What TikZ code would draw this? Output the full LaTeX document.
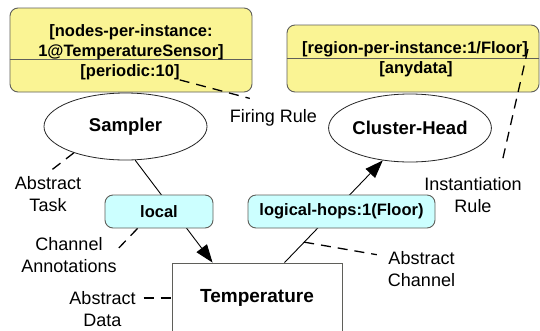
\documentclass[tikz,border=0pt]{standalone}
\usepackage{fontspec}
\setmainfont{Liberation Sans}
\usetikzlibrary{arrows.meta,shapes.geometric}
\definecolor{boxyellow}{RGB}{250,244,148}
\definecolor{boxcyan}{RGB}{204,255,255}
\definecolor{edgegray}{RGB}{95,95,90}
\begin{document}
\begin{tikzpicture}[x=1pt,y=-1pt,
  yellowbox/.style={draw=edgegray, fill=boxyellow, rounded corners=8pt, line width=0.9pt, inner sep=0pt},
  cyanbox/.style={draw=edgegray, fill=boxcyan, rounded corners=8pt, line width=0.9pt, inner sep=0pt, minimum height=33pt, font=\fontsize{16.5}{19}\selectfont\bfseries},
  boxtext/.style={inner sep=0pt, font=\fontsize{16.5}{20}\selectfont\bfseries, align=center},
  tasknode/.style={ellipse, draw=black!85, fill=white, line width=0.8pt, inner sep=0pt, font=\fontsize{18.5}{22}\selectfont\bfseries},
  note/.style={inner sep=0pt, font=\fontsize{18}{22}\selectfont, align=center},
  noteline/.style={dash pattern=on 10pt off 7pt, line width=1.3pt},
  flow/.style={line width=0.9pt, -{Triangle[length=18pt,width=13pt]}},
]
\clip (0,0) rectangle (540,330);
\fill[white] (0,0) rectangle (540,330);

% annotation boxes
\node[yellowbox, minimum width=242pt, minimum height=84pt] (frbox) at (131,50) {};
\draw[edgegray, line width=0.9pt] (frbox.west |- 0,59) -- (frbox.east |- 0,59);
\node[boxtext] (nodesper) at (131,42) {[nodes-per-instance:\\1@TemperatureSensor]};
\node[boxtext] (periodic) at (130,72) {[periodic:10]};

\node[yellowbox, minimum width=252pt, minimum height=67pt] (inbox) at (413,58.5) {};
\draw[edgegray, line width=0.9pt] (inbox.west |- 0,58) -- (inbox.east |- 0,58);
\node[boxtext] (region) at (415,49) {[region-per-instance:1/Floor]};
\node[boxtext] (anydata) at (416,69) {[anydata]};

% tasks and data
\node[tasknode, minimum width=163pt, minimum height=67pt] (sampler) at (125.5,126.5) {Sampler};
\node[tasknode, minimum width=160pt, minimum height=68pt] (cluster) at (410,128) {Cluster-Head};
\node[draw=edgegray, fill=white, line width=0.9pt, minimum width=170pt, minimum height=70pt, inner sep=0pt, font=\fontsize{19}{22}\selectfont\bfseries] (temp) at (257,298) {Temperature};

% channels
\draw[flow] (sampler.-74) -- ([xshift=41pt]temp.north west);
\draw[flow] ([xshift=113pt]temp.north west) -- coordinate[pos=0.2] (acpt) (cluster.-130);

\node[cyanbox, minimum width=108pt] (local) at (159,211.5) {local};
\node[cyanbox, minimum width=187pt] (hops) at (341.5,211.5) {logical-hops:1(Floor)};

% labels
\node[note] (firelbl) at (273.5,118) {Firing Rule};
\node[note] (tasklbl) at (48,194.5) {Abstract\\Task};
\node[note] (chanlbl) at (69,255) {Channel\\Annotations};
\node[note] (datalbl) at (102.5,309) {Abstract\\Data};
\node[note] (abslbl) at (421.5,269.5) {Abstract\\Channel};
\node[note] (instlbl) at (473,195) {Instantiation\\Rule};

% dashed pointers
\draw[noteline] (periodic.south east) -- ([xshift=20pt,yshift=11pt]firelbl.north west);
\draw[noteline] (region.east) -- ([xshift=29pt,yshift=15pt]instlbl.north);
\draw[noteline] (sampler.-153) -- ([xshift=4pt,yshift=7pt]tasklbl.north);
\draw[noteline] ([xshift=33pt]local.south west) -- ([xshift=-2pt,yshift=-15pt]chanlbl.north east);
\draw[noteline] ([xshift=8pt,yshift=11pt]datalbl.east) -- (temp.west);
\draw[noteline] (acpt) -- ([xshift=-11pt,yshift=-3pt]abslbl.north west);
\end{tikzpicture}
\end{document}
